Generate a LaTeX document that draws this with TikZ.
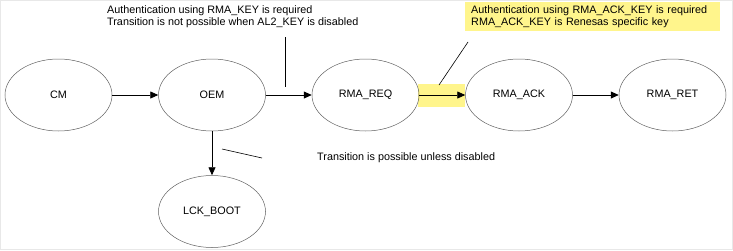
\documentclass[tikz,border=0pt]{standalone}
\usepackage{fontspec}
\setmainfont{Liberation Sans}
\usepackage{xcolor}
\usepackage{tikz}
\usetikzlibrary{
  arrows.meta,
  positioning,
  shapes.geometric
}

\definecolor{notefill}{RGB}{255,245,140}
\tikzset{
  state/.style={ellipse, draw=gray!75!black, line width=0.5pt,
    minimum width=107pt, minimum height=72pt, inner sep=0pt},
  flow/.style={-{Triangle[length=8pt, width=7pt]}, line width=0.8pt},
  callout/.style={line width=0.6pt},
  note/.style={anchor=north west, align=left, inner sep=0pt}
}

\begin{document}
\begin{tikzpicture}[x=1pt, y=-1pt, node distance=46pt,
    font=\fontsize{10.8}{12.5}\selectfont]
  \useasboundingbox (0,0) rectangle (733,250);
  \draw[gray!18, line width=1pt] (0.5,0.5) rectangle (732.5,249.5);

  % highlight behind the RMA_REQ -> RMA_ACK arrow
  \fill[notefill] (418,84) rectangle (465,107);

  \node[state] (cm) at (58.5,95) {CM};
  \node[state, right=of cm] (oem) {OEM};
  \node[state, right=of oem] (req) {RMA\_REQ};
  \node[state, right=of req] (ack) {RMA\_ACK};
  \node[state, right=of ack] (ret) {RMA\_RET};
  \node[state, below=44pt of oem] (lck) {LCK\_BOOT};

  \draw[flow] (cm) -- (oem);
  \draw[flow] (oem) -- (req);
  \draw[flow] (req) -- (ack);
  \draw[flow] (ack) -- (ret);
  \draw[flow] (oem) -- (lck);

  % notes
  \node[note] (keynote) at (107,5)
    {Authentication using RMA\_KEY is required\\
     Transition is not possible when AL2\_KEY is disabled};
  \node[note, fill=notefill, inner xsep=6pt, inner ysep=3pt,
    text width=243pt] (acknote) at (465,2)
    {Authentication using RMA\_ACK\_KEY is required\\
     RMA\_ACK\_KEY is Renesas specific key};
  \node[note, anchor=west] (locknote) at (317,158)
    {Transition is possible unless disabled};

  \coordinate (keytop) at (285,37);
  \coordinate (keyend) at (285,87);
  \coordinate (acktop) at (468,42);
  \coordinate (ackend) at (439,85);
  \coordinate (locktop) at (222,149);
  \coordinate (lockend) at (262,158);
  \draw[callout] (keytop) -- (keyend);
  \draw[callout] (acktop) -- (ackend);
  \draw[callout] (locktop) -- (lockend);
\end{tikzpicture}
\end{document}
